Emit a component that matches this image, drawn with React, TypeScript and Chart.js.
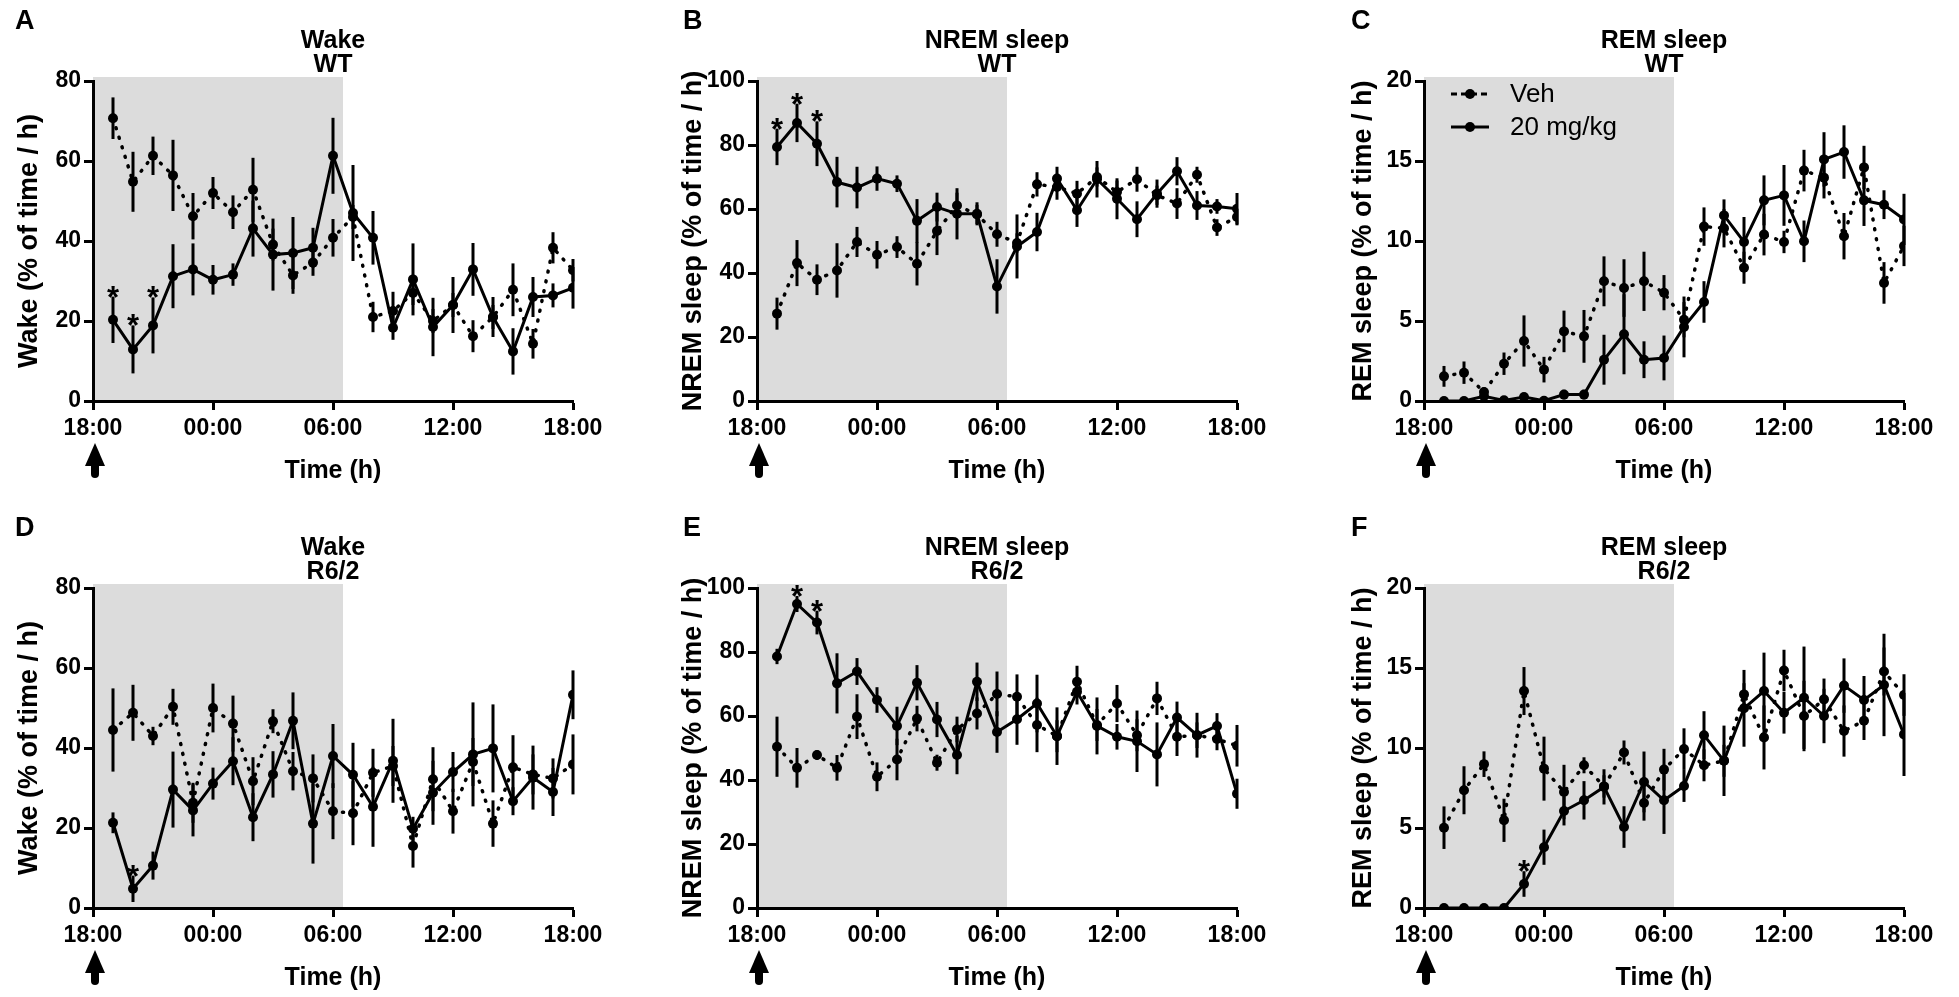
import React, { useEffect, useRef } from 'react';
import { Chart, registerables } from 'chart.js';

Chart.register(...registerables);

const FONT = '"Liberation Sans", Arial, Helvetica, sans-serif';
Chart.defaults.font.family = FONT;
Chart.defaults.color = '#000';

// ---------- data ----------
const hours = [1, 2, 3, 4, 5, 6, 7, 8, 9, 10, 11, 12, 13, 14, 15, 16, 17, 18, 19, 20, 21, 22, 23, 24];
const xTickLabels = ['18:00', '00:00', '06:00', '12:00', '18:00'];
const darkStart = 0;
const darkEnd = 12.5;
const seriesNames = ['Veh', '20 mg/kg'];

// A: Wake WT
const vehA = [70.7, 54.8, 61.3, 56.4, 46.2, 52.0, 47.2, 52.8, 39.1, 31.4, 34.6, 40.8, 46.0, 21.0, 22.5, 27.0, 20.0, 24.0, 16.2, 21.0, 27.8, 14.3, 38.3, 32.7];
const vehAErr = [5.2, 7.5, 4.8, 8.9, 5.8, 4.0, 4.2, 8.0, 4.0, 4.6, 3.3, 4.7, 3.0, 3.8, 4.8, 3.0, 3.0, 3.0, 4.0, 3.0, 6.6, 3.7, 3.9, 2.8];
const drugA = [20.3, 12.9, 18.9, 31.2, 32.9, 30.3, 31.6, 43.1, 36.6, 37.0, 38.3, 61.3, 47.0, 40.8, 18.3, 30.4, 18.5, 24.0, 32.9, 21.0, 12.4, 26.0, 26.4, 28.3];
const drugAErr = [5.8, 6.0, 7.0, 8.0, 6.5, 3.7, 2.8, 7.0, 9.0, 9.0, 5.0, 9.5, 12.0, 6.7, 3.0, 9.0, 7.3, 7.0, 6.6, 5.0, 5.8, 5.0, 3.0, 5.2];
const sigA = [1, 2, 3];

// B: NREM WT
const vehB = [27.3, 43.1, 37.9, 40.8, 49.7, 45.7, 48.1, 42.9, 53.1, 61.1, 58.3, 52.1, 49.4, 67.7, 66.9, 64.8, 70.0, 65.3, 69.3, 64.3, 61.7, 70.7, 54.2, 57.5];
const vehBErr = [5.0, 7.2, 4.8, 8.5, 4.7, 4.3, 3.4, 6.8, 7.5, 4.0, 3.0, 3.9, 3.0, 3.8, 4.0, 4.0, 3.0, 3.6, 3.9, 3.0, 4.8, 2.5, 2.6, 2.6];
const drugB = [79.4, 86.9, 80.4, 68.4, 66.7, 69.5, 67.9, 56.3, 60.6, 58.5, 58.5, 35.8, 48.3, 52.8, 69.5, 59.6, 69.3, 63.2, 56.8, 64.8, 71.8, 61.1, 60.8, 60.1];
const drugBErr = [5.7, 6.0, 7.0, 7.9, 6.5, 3.8, 2.6, 6.8, 4.5, 8.0, 3.6, 8.5, 10.0, 6.0, 3.7, 5.2, 5.7, 6.4, 5.6, 4.4, 4.4, 4.5, 2.3, 4.9];
const sigB = [1, 2, 3];

// C: REM WT
const vehC = [1.54, 1.77, 0.56, 2.33, 3.75, 1.96, 4.35, 4.04, 7.48, 7.06, 7.48, 6.77, 5.08, 10.9, 10.8, 8.33, 10.4, 9.94, 14.4, 13.96, 10.3, 14.6, 7.38, 9.69];
const vehCErr = [0.65, 0.7, 0.3, 0.7, 1.6, 0.8, 1.3, 1.65, 1.56, 1.8, 1.85, 1.1, 1.1, 1.2, 1.2, 1.0, 1.3, 0.7, 1.3, 1.3, 1.45, 1.35, 1.3, 1.26];
const drugC = [0, 0, 0.3, 0.04, 0.25, 0.02, 0.4, 0.4, 2.58, 4.17, 2.58, 2.69, 4.63, 6.19, 11.6, 9.94, 12.54, 12.85, 9.98, 15.1, 15.56, 12.54, 12.27, 11.35];
const drugCErr = [0, 0, 0.2, 0, 0.1, 0, 0.3, 0.3, 1.56, 2.5, 1.15, 1.4, 1.9, 1.3, 1.0, 1.56, 1.56, 1.9, 1.3, 1.7, 1.67, 1.6, 0.9, 1.6];
const sigC: number[] = [];

// D: Wake R6/2
const vehD = [44.5, 48.8, 43.0, 50.3, 26.3, 50.0, 46.1, 31.7, 46.7, 34.2, 32.4, 24.2, 23.7, 33.8, 35.5, 15.5, 32.2, 24.2, 36.5, 21.1, 35.2, 33.4, 32.4, 35.9];
const vehDErr = [10.4, 7.0, 2.3, 4.5, 5.0, 6.1, 7.0, 6.0, 3.0, 4.8, 6.0, 7.0, 8.0, 6.0, 5.0, 5.4, 8.0, 5.6, 6.0, 5.8, 8.0, 5.0, 5.0, 7.5];
const drugD = [21.3, 4.8, 10.6, 29.6, 24.4, 31.1, 36.7, 22.7, 33.4, 46.8, 21.1, 38.0, 33.3, 25.3, 36.8, 19.8, 28.8, 34.0, 38.4, 39.9, 26.7, 32.6, 29.0, 53.3];
const drugDErr = [2.6, 3.3, 3.5, 9.5, 6.5, 4.0, 6.0, 6.0, 5.8, 7.1, 10.0, 8.0, 8.0, 10.0, 10.5, 3.0, 8.0, 5.0, 13.0, 11.0, 3.5, 8.0, 6.0, 6.1];
const sigD = [2];

// E: NREM R6/2
const vehE = [50.4, 43.8, 47.8, 43.8, 59.8, 41.0, 46.4, 59.2, 45.4, 55.8, 60.8, 66.9, 66.0, 57.2, 53.7, 70.7, 57.2, 63.9, 54.0, 65.5, 53.5, 54.0, 52.8, 50.7];
const vehEErr = [9.4, 6.2, 1.5, 4.0, 7.0, 4.5, 6.5, 4.0, 2.5, 4.0, 5.0, 7.0, 7.0, 8.5, 5.0, 5.0, 5.0, 5.8, 5.0, 5.2, 6.0, 4.0, 3.5, 6.5];
const drugE = [78.6, 95.0, 89.2, 70.2, 73.9, 65.0, 56.9, 70.4, 58.9, 47.8, 70.7, 55.0, 59.0, 63.9, 53.7, 67.6, 56.9, 53.5, 52.1, 48.0, 59.5, 54.0, 56.9, 35.7];
const drugEErr = [2.4, 2.5, 3.7, 9.4, 4.2, 4.0, 6.0, 5.5, 5.5, 6.0, 6.0, 6.5, 8.0, 9.0, 9.0, 4.0, 8.9, 4.0, 9.6, 10.0, 5.0, 7.0, 4.0, 4.7];
const sigE = [2, 3];

// F: REM R6/2
const vehF = [5.02, 7.36, 8.99, 5.48, 13.56, 8.71, 7.25, 8.92, 7.6, 9.72, 6.56, 8.65, 9.93, 8.92, 9.2, 13.35, 10.66, 14.84, 12.0, 13.04, 11.06, 11.7, 14.78, 13.31];
const vehFErr = [1.33, 1.5, 0.8, 1.35, 1.5, 2.0, 1.7, 0.5, 0.7, 0.75, 1.1, 1.3, 1.3, 1.0, 1.0, 0.7, 2.0, 1.3, 2.2, 1.3, 1.6, 1.2, 1.5, 1.3];
const drugF = [0, 0, 0, 0, 1.5, 3.8, 6.06, 6.73, 7.57, 5.06, 7.88, 6.73, 7.63, 10.8, 9.2, 12.48, 13.56, 12.2, 13.14, 12.0, 13.9, 13.0, 13.94, 10.85];
const drugFErr = [0, 0, 0, 0, 0.8, 1.1, 0.9, 1.2, 1.1, 1.3, 1.9, 2.1, 1.0, 1.5, 2.2, 2.4, 2.4, 1.3, 3.2, 1.7, 1.7, 1.5, 3.2, 2.6];
const sigF = [5];

// ---------- layout ----------
type PanelDef = {
  letter: string;
  title: string[];
  yTitle: string;
  yMax: number;
  yStep: number;
  veh: number[];
  vehErr: number[];
  drug: number[];
  drugErr: number[];
  sig: number[];
  legend: boolean;
  col: number;
  row: number;
};

const COLS = [
  { left: 0, width: 640, axisW: 93, padR: 67, titlePad: 16, letterX: 15 },
  { left: 640, width: 660, axisW: 117, padR: 63, titlePad: 40, letterX: 43 },
  { left: 1300, width: 659, axisW: 124, padR: 55, titlePad: 50, letterX: 51 },
];
const ROWS = [0, 507];
const CANVAS_H = 490;

const panels: PanelDef[] = [
  { letter: 'A', title: ['Wake', 'WT'], yTitle: 'Wake (% of time / h)', yMax: 80, yStep: 20, veh: vehA, vehErr: vehAErr, drug: drugA, drugErr: drugAErr, sig: sigA, legend: false, col: 0, row: 0 },
  { letter: 'B', title: ['NREM sleep', 'WT'], yTitle: 'NREM sleep (% of time / h)', yMax: 100, yStep: 20, veh: vehB, vehErr: vehBErr, drug: drugB, drugErr: drugBErr, sig: sigB, legend: false, col: 1, row: 0 },
  { letter: 'C', title: ['REM sleep', 'WT'], yTitle: 'REM sleep (% of time / h)', yMax: 20, yStep: 5, veh: vehC, vehErr: vehCErr, drug: drugC, drugErr: drugCErr, sig: sigC, legend: true, col: 2, row: 0 },
  { letter: 'D', title: ['Wake', 'R6/2'], yTitle: 'Wake (% of time / h)', yMax: 80, yStep: 20, veh: vehD, vehErr: vehDErr, drug: drugD, drugErr: drugDErr, sig: sigD, legend: false, col: 0, row: 1 },
  { letter: 'E', title: ['NREM sleep', 'R6/2'], yTitle: 'NREM sleep (% of time / h)', yMax: 100, yStep: 20, veh: vehE, vehErr: vehEErr, drug: drugE, drugErr: drugEErr, sig: sigE, legend: false, col: 1, row: 1 },
  { letter: 'F', title: ['REM sleep', 'R6/2'], yTitle: 'REM sleep (% of time / h)', yMax: 20, yStep: 5, veh: vehF, vehErr: vehFErr, drug: drugF, drugErr: drugFErr, sig: sigF, legend: false, col: 2, row: 1 },
];

function Panel({ p }: { p: PanelDef }) {
  const ref = useRef<HTMLCanvasElement>(null);
  const col = COLS[p.col];

  useEffect(() => {
    const canvas = ref.current;
    if (!canvas) return;
    const pointsOf = (ys: number[]) => hours.map((h, i) => ({ x: h, y: ys[i] }));

    const decor = {
      id: 'panelDecor',
      beforeDraw(chart: any) {
        const { ctx, chartArea } = chart;
        const xs = chart.scales.x;
        const x0 = xs.getPixelForValue(darkStart);
        const x1 = xs.getPixelForValue(darkEnd);
        ctx.save();
        ctx.fillStyle = '#dcdcdc';
        ctx.fillRect(x0, chartArea.top - 4, x1 - x0, chartArea.bottom - chartArea.top + 4);
        ctx.restore();
      },
      beforeDatasetsDraw(chart: any) {
        const { ctx } = chart;
        const xs = chart.scales.x;
        const ys = chart.scales.y;
        ctx.save();
        ctx.strokeStyle = '#000';
        ctx.lineWidth = 3;
        ctx.lineCap = 'butt';
        const bars = (vals: number[], errs: number[]) => {
          hours.forEach((h, i) => {
            if (!errs[i]) return;
            const x = xs.getPixelForValue(h);
            ctx.beginPath();
            ctx.moveTo(x, ys.getPixelForValue(vals[i] + errs[i]));
            ctx.lineTo(x, ys.getPixelForValue(Math.max(0, vals[i] - errs[i])));
            ctx.stroke();
          });
        };
        bars(p.veh, p.vehErr);
        bars(p.drug, p.drugErr);
        ctx.restore();
      },
      afterDraw(chart: any) {
        const { ctx, chartArea } = chart;
        const xs = chart.scales.x;
        const ys = chart.scales.y;
        ctx.save();
        ctx.fillStyle = '#000';
        ctx.strokeStyle = '#000';

        // significance asterisks
        ctx.font = `bold 31px ${FONT}`;
        ctx.textAlign = 'center';
        ctx.textBaseline = 'alphabetic';
        p.sig.forEach((h) => {
          const i = hours.indexOf(h);
          const x = xs.getPixelForValue(h);
          const top = ys.getPixelForValue(p.drug[i] + p.drugErr[i]);
          ctx.fillText('*', x, top + 11);
        });

        // injection arrow under 18:00
        const ax = xs.getPixelForValue(0) + 2;
        const tipY = chartArea.bottom + 42;
        const baseY = chartArea.bottom + 65;
        ctx.beginPath();
        ctx.moveTo(ax, tipY);
        ctx.lineTo(ax + 10, baseY);
        ctx.lineTo(ax - 10, baseY);
        ctx.closePath();
        ctx.fill();
        ctx.fillRect(ax - 4, baseY - 2, 8, 10);
        ctx.beginPath();
        ctx.arc(ax, baseY + 8, 4, 0, Math.PI);
        ctx.fill();

        // panel letter
        ctx.font = `bold 27px ${FONT}`;
        ctx.textAlign = 'left';
        ctx.fillText(p.letter, col.letterX, 29);

        // legend
        if (p.legend) {
          const lx = chartArea.left + 27;
          const rowsY = [chartArea.top + 13, chartArea.top + 46];
          rowsY.forEach((ly, k) => {
            ctx.lineWidth = 3;
            ctx.setLineDash(k === 0 ? [6, 4] : []);
            ctx.beginPath();
            ctx.moveTo(lx, ly);
            ctx.lineTo(lx + 38, ly);
            ctx.stroke();
            ctx.setLineDash([]);
            ctx.beginPath();
            ctx.arc(lx + 19, ly, 5, 0, Math.PI * 2);
            ctx.fill();
            ctx.font = `26px ${FONT}`;
            ctx.textAlign = 'left';
            ctx.textBaseline = 'middle';
            ctx.fillText(seriesNames[k], lx + 59, ly + 1);
          });
        }
        ctx.restore();
      },
    };

    const axisGrid = {
      drawOnChartArea: false,
      drawTicks: true,
      tickLength: 9,
      tickWidth: 3,
      tickColor: '#000',
      color: '#000',
    };
    const axisBorder = { display: true, width: 3, color: '#000' };
    const tickFont = { family: FONT, size: 23, weight: 'bold' as const, lineHeight: 1 };

    const chart = new Chart(canvas, {
      type: 'line',
      data: {
        datasets: [
          {
            label: seriesNames[0],
            data: pointsOf(p.veh),
            borderColor: '#000',
            backgroundColor: '#000',
            borderWidth: 3.5,
            borderDash: [1, 9],
            borderCapStyle: 'round',
            pointRadius: 5,
            pointHoverRadius: 5,
            pointBackgroundColor: '#000',
            pointBorderWidth: 0,
            tension: 0,
            fill: false,
          },
          {
            label: seriesNames[1],
            data: pointsOf(p.drug),
            borderColor: '#000',
            backgroundColor: '#000',
            borderWidth: 3,
            pointRadius: 5,
            pointHoverRadius: 5,
            pointBackgroundColor: '#000',
            pointBorderWidth: 0,
            tension: 0,
            fill: false,
          },
        ],
      },
      options: {
        responsive: false,
        animation: false,
        devicePixelRatio: 1,
        events: [],
        layout: { padding: { left: 0, top: 0, right: col.padR, bottom: 0 } },
        plugins: {
          legend: { display: false },
          tooltip: { enabled: false },
          title: {
            display: true,
            text: p.title,
            fullSize: false,
            color: '#000',
            font: { family: FONT, size: 25, weight: 'bold', lineHeight: 0.96 },
            padding: { top: 29, bottom: 4 },
          },
        },
        scales: {
          x: {
            type: 'linear',
            min: 0,
            max: 24,
            afterFit: (s: any) => {
              s.height = 89;
              s.paddingLeft = 0;
              s.paddingRight = 0;
            },
            ticks: {
              stepSize: 6,
              autoSkip: false,
              maxRotation: 0,
              minRotation: 0,
              color: '#000',
              padding: 7,
              font: tickFont,
              callback: (v: any) => xTickLabels[Math.round(Number(v) / 6)] ?? '',
            },
            grid: axisGrid,
            border: axisBorder,
            title: {
              display: true,
              text: 'Time (h)',
              color: '#000',
              font: { family: FONT, size: 25, weight: 'bold', lineHeight: 1 },
              padding: { top: 0, bottom: 6 },
            },
          },
          y: {
            min: 0,
            max: p.yMax,
            afterFit: (s: any) => {
              s.width = col.axisW;
              s.paddingTop = 0;
              s.paddingBottom = 0;
            },
            ticks: { stepSize: p.yStep, color: '#000', padding: 3, font: tickFont },
            grid: axisGrid,
            border: axisBorder,
            title: {
              display: true,
              text: p.yTitle,
              color: '#000',
              font: { family: FONT, size: 27, weight: 'bold', lineHeight: 1 },
              padding: { top: col.titlePad, bottom: 0 },
            },
          },
        },
      },
      plugins: [decor],
    } as any);

    return () => chart.destroy();
  }, []);

  return (
    <canvas
      ref={ref}
      width={col.width}
      height={CANVAS_H}
      style={{ position: 'absolute', left: col.left, top: ROWS[p.row], width: col.width, height: CANVAS_H }}
    />
  );
}

export default function App() {
  return (
    <div style={{ position: 'absolute', left: 0, top: 0, width: 1959, height: 997, background: '#fff', overflow: 'hidden' }}>
      {panels.map((p) => (
        <Panel key={p.letter} p={p} />
      ))}
    </div>
  );
}
